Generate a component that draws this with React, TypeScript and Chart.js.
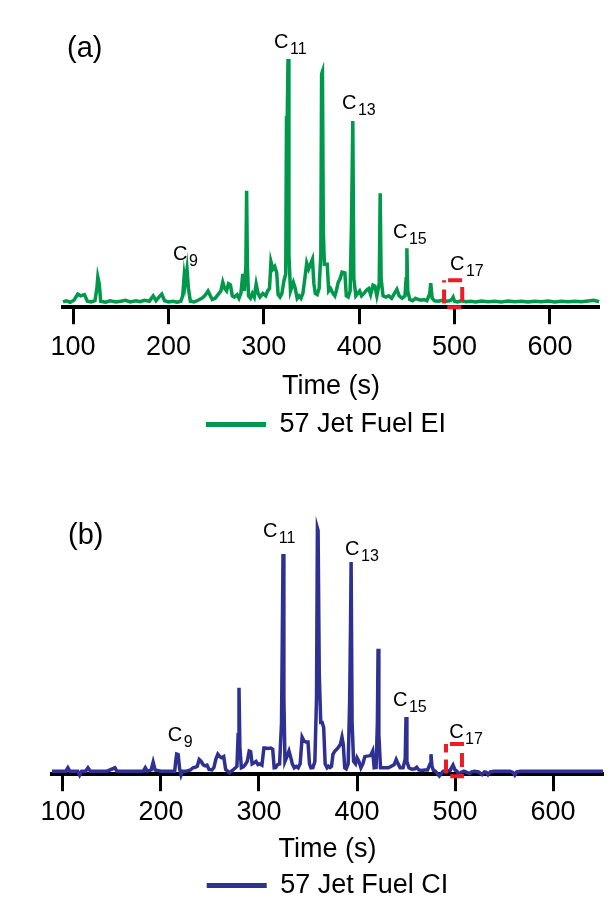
import React, { useEffect, useRef } from 'react';
import { Chart, registerables } from 'chart.js';
Chart.register(...registerables);

const FONT = "'Liberation Sans', Arial, Helvetica, sans-serif";
const GREEN = '#00984a';
const BLUE = '#2e3192';
const RED = '#ed1c24';

const xTicks = [100, 200, 300, 400, 500, 600];

// [time (s), intensity] — 57 Jet Fuel EI
const eiPoints: [number, number][] = [
  [89.5, 0.5], [93, 1.0], [97, 0.4], [101, 1.2], [105, 3.7], [108, 3.0], [112, 3.5], [115, 0.8], [119, 0.5], [123, 1.0],
  [125, 6], [126, 10.7], [127.5, 8], [129, 0.8], [134, 0.4], [139, 1.0], [145, 0.5], [150, 0.8], [155, 1.2], [160, 0.5],
  [166, 1.0], [170, 0.6], [175, 1.2], [180, 0.8], [184, 3.0], [187, 1.0], [190, 2.5], [193, 3.7], [196, 1.0], [200, 0.5],
  [205, 0.8], [209, 0.4], [213, 0.8], [215, 3], [216.5, 11], [217.5, 8], [219.5, 14], [221, 6], [223, 0.8], [227, 0.5],
  [231, 1.2], [235, 2.0], [238, 3.0], [241.5, 5.0], [244, 3.0], [246, 1.5], [249, 2.0], [252, 3.5], [255, 5], [257, 8.6],
  [259, 6], [261, 5], [263, 8], [265, 7.5], [267, 3], [269, 2.5], [272, 3.5], [274, 2], [276, 4], [278, 12],
  [279.5, 5], [281.2, 15], [282, 46], [282.8, 15], [284, 3], [286, 2], [288, 4], [290, 2.5], [292, 7.8], [294, 4],
  [296, 2.5], [299, 4], [302, 3], [304, 5], [306, 6], [307.5, 17], [309.5, 14], [311.5, 15], [313.5, 12.5], [315, 3.5],
  [317, 2.5], [319, 4], [321, 9], [323, 12], [323.8, 76], [324.6, 76], [325.4, 100], [326.3, 20], [328, 5], [331, 8.5],
  [333, 6], [335, 2], [337, 3], [339, 2], [341, 4], [343, 10], [345, 16.4], [347, 14], [349, 16], [351, 18],
  [352.5, 8], [354, 4], [356, 3.5], [358, 6], [359.8, 20], [360.6, 94], [361.5, 95], [362.4, 30], [363.5, 16], [365, 16],
  [366.5, 16], [368, 5], [370, 6], [372.5, 4], [374.5, 3], [376, 5], [378, 8.5], [380, 10], [382, 12.7], [385, 12.4],
  [386.5, 3], [388.5, 2.5], [390.5, 5], [392, 34], [393.3, 74.6], [394.4, 10], [396.5, 3], [398.5, 4], [400.5, 5], [402.5, 3],
  [405, 4], [408, 5.5], [410, 6], [412, 3.5], [414.5, 7.4], [416.5, 7], [418.5, 3], [421, 8], [422, 45], [423, 10],
  [425, 3], [428, 2.5], [431, 3], [434, 2], [437, 4], [439.5, 5.7], [442, 3], [445, 2], [448, 3], [449.2, 10],
  [450, 22.5], [450.9, 5], [453, 1.5], [456, 1.0], [459, 2.0], [462, 1.5], [465, 1.2], [468, 1.5], [471, 1.0], [474, 4],
  [475, 8.2], [476.5, 2], [479, 1.0], [483, 0.8], [487, 1.2], [491, 0.8], [495, 1.0], [497, 1.5], [498.5, 2.5], [500, 0.8],
  [503, 0.5], [507, 1.0], [512, 0.6], [517, 0.8], [522, 0.5], [528, 0.9], [535, 0.6], [542, 0.8], [549, 0.5], [556, 0.9],
  [563, 0.6], [570, 0.8], [577, 0.5], [584, 0.8], [591, 0.6], [598, 0.9], [605, 0.5], [612, 0.8], [619, 0.6], [626, 0.8],
  [633, 0.6], [640, 0.9], [646, 1.2], [651.4, 0.6],
];

// [time (s), intensity] — 57 Jet Fuel CI
const ciPoints: [number, number][] = [
  [88.8, 0], [95, 0], [100, 0], [103, 0], [105, 1.4], [107, 0], [112, 0], [115, 0], [117, -1.6], [119, 0],
  [123, 0], [125.5, 1.4], [128, 0], [135, 0], [145, 0], [153, 1.4], [155, 0], [165, 0], [175, 0], [182, 0],
  [184, 1.4], [186, 0], [190, 0.5], [192, 3.7], [194, 0.5], [200, 0], [205, 0], [210, 0], [214, 0], [215, 4],
  [216, 7], [217.5, 6.8], [219, 1], [220.5, -1.6], [222, 0], [226, 0], [230, 0.5], [232.6, 1.4], [235, 1.6], [237, 2],
  [239, 4.8], [241, 4], [243, 2.7], [245, 2.2], [247, 2.5], [249, 0.7], [252, 0.5], [254, 1.5], [256, 5], [258, 7],
  [260, 6], [262, 5.5], [264, 6], [266, 0.7], [268, 0], [270, -0.7], [272, 0], [274, 0.7], [276, 1.4], [277.5, 2],
  [278.7, 15], [279.6, 34.3], [280.5, 10], [282, 1.4], [284, 1.8], [286, 2.7], [288, 4], [290, 8.3], [291.5, 8], [293, 3],
  [295, 3.5], [297, 4], [299, 2.7], [301, 3], [303, 2.5], [305, 9.5], [307, 9.5], [309, 9.3], [312, 9.5], [314, 9],
  [315.5, 1.4], [317, 1.5], [319, 2.7], [321, 3], [323, 20], [323.8, 56], [324.5, 89.3], [325.4, 30], [326.5, 4], [328.5, 6],
  [330.6, 8.3], [332.5, 5.5], [334, 3], [336, 1.4], [338, 2], [340, 1.4], [342, 3], [344, 14], [346, 12.4], [348, 12],
  [350, 12], [351.5, 3], [353, 1.4], [355, 1.5], [357, 4], [358.7, 30], [359.6, 100], [360.3, 99], [361.5, 40], [363, 20],
  [364.5, 20], [366, 18], [367.5, 3], [369.5, 1.4], [371, 2], [372.5, 1.5], [374, 2], [375.5, 7], [377.5, 8.3], [380.6, 9.6],
  [383, 11], [384.7, 14], [386, 11], [387.5, 1.4], [389, 1], [391, 3], [392.5, 29], [393.4, 60], [394, 86], [395, 20],
  [396.5, 4], [398.5, 3], [400, 5.5], [402, 4], [404, 1.4], [406, 3], [408, 6], [410, 6.2], [412, 6.3], [414, 6.5],
  [416, 8.3], [417.5, 1.4], [419.5, 1.5], [420.8, 20], [421.5, 50.4], [422.3, 15], [424, 1.4], [428, 1.4], [432, 1.4], [435, 2],
  [438, 2.7], [440, 4.8], [442, 3], [444, 1.4], [447, 1.4], [449.2, 5], [450, 22.3], [450.9, 4], [453, 1.4], [456, 0.8],
  [459, 1], [461, 1.6], [463, 0.5], [466, 0.3], [469, 0.5], [472, 0.5], [474.5, 3], [475.5, 7], [476.5, 2], [478, 0.3],
  [480, 0], [482, -1], [484, -2], [486, -1], [488, 0], [492, 0], [495, 0.3], [498, 2.5], [500, 0.5], [502, 0],
  [504, -1.6], [506, -0.5], [509, 0], [512, -0.5], [515, -1], [517, -0.3], [520, 0], [524, -0.3], [527.5, -1.4], [530, -0.3],
  [532, -0.5], [533.7, -1.4], [536, -0.3], [540, 0], [545, 0], [550, 0], [556, 0], [559, -0.5], [561, -1.6], [563, -0.3],
  [567, 0], [580, 0], [600, 0], [620, 0], [640, 0], [651, 0],
];

// peak labels: subscript, [time of left edge, value of baseline]
const peakSubs = ['9', '11', '13', '15', '17'];
const eiLabelPos: [number, number][] = [[204.8, 17.6], [310.7, 104.5], [382, 79.5], [435.4, 26.6], [495.2, 13.5]];
const ciLabelPos: [number, number][] = [[207, 12.4], [304, 96.3], [387.8, 88.8], [436.7, 26.9], [494, 13.6]];

// dashed highlight box: [time start, time end], [value bottom, value top]
const eiBoxTime = [489, 508];
const eiBoxValue = [-1.64, 9.4];
const ciBoxTime = [490.8, 507.1];
const ciBoxValue = [-2.07, 11.2];

const annotate = {
  id: 'annotate',
  afterDatasetsDraw(chart: any, _args: any, opts: any) {
    const { ctx } = chart;
    const xs = chart.scales.x;
    const ys = chart.scales.y;
    ctx.save();
    const bx1 = xs.getPixelForValue(opts.boxTime[0]);
    const bx2 = xs.getPixelForValue(opts.boxTime[1]);
    const by1 = ys.getPixelForValue(opts.boxValue[1]);
    const by2 = ys.getPixelForValue(opts.boxValue[0]);
    ctx.strokeStyle = RED;
    ctx.lineWidth = 4;
    ctx.setLineDash([14, 7]);
    ctx.lineDashOffset = -4;
    ctx.strokeRect(bx1, by1, bx2 - bx1, by2 - by1);
    ctx.setLineDash([]);
    ctx.fillStyle = '#000';
    ctx.textAlign = 'left';
    ctx.textBaseline = 'alphabetic';
    opts.labelPos.forEach((p: [number, number], i: number) => {
      const px = xs.getPixelForValue(p[0]);
      const py = ys.getPixelForValue(p[1]);
      ctx.font = `20px ${FONT}`;
      ctx.fillText('C', px, py);
      const w = ctx.measureText('C').width;
      ctx.font = `16px ${FONT}`;
      ctx.fillText(peakSubs[i], px + w + 1.5, py + 6);
    });
    ctx.font = `29px ${FONT}`;
    ctx.fillText(opts.panel, opts.panelX, opts.panelY);
    ctx.restore();
  },
};

type PanelProps = {
  top: number;
  height: number;
  points: [number, number][];
  color: string;
  label: string;
  xMin: number;
  xMax: number;
  yMin: number;
  yMax: number;
  yWidth: number;
  pad: { top: number; left: number; right: number; bottom: number };
  tickPad: number;
  titlePad: { top: number; bottom: number };
  legendPad: number;
  labelPos: [number, number][];
  boxTime: number[];
  boxValue: number[];
  panel: string;
  panelX: number;
  panelY: number;
};

function Panel(props: PanelProps) {
  const ref = useRef<HTMLCanvasElement>(null);
  useEffect(() => {
    if (!ref.current) return;
    const chart = new Chart(ref.current, {
      type: 'line',
      data: {
        datasets: [
          {
            label: props.label,
            data: props.points.map(([x, y]) => ({ x, y })),
            borderColor: props.color,
            backgroundColor: props.color,
            borderWidth: 3.5,
            pointRadius: 0,
            tension: 0,
            fill: false,
            clip: false as any,
          },
        ],
      },
      options: {
        responsive: false,
        animation: false,
        devicePixelRatio: 1,
        layout: { padding: props.pad },
        scales: {
          x: {
            type: 'linear',
            min: props.xMin,
            max: props.xMax,
            afterBuildTicks: (scale: any) => {
              scale.ticks = xTicks.map((v) => ({ value: v }));
            },
            grid: {
              display: true,
              drawOnChartArea: false,
              drawTicks: true,
              tickLength: 17,
              tickWidth: 3,
              tickColor: '#000',
            },
            border: { display: true, color: '#000', width: 4 },
            ticks: {
              color: '#000',
              font: { size: 27, family: FONT },
              padding: props.tickPad,
              maxRotation: 0,
              autoSkip: false,
            },
            title: {
              display: true,
              text: 'Time (s)',
              color: '#000',
              font: { size: 27, family: FONT },
              padding: props.titlePad,
            },
          },
          y: {
            display: props.yWidth > 0,
            min: props.yMin,
            max: props.yMax,
            grid: { display: false },
            border: { display: false },
            ticks: { display: false },
            afterFit: (scale: any) => {
              scale.width = props.yWidth;
            },
          },
        },
        plugins: {
          legend: {
            display: true,
            position: 'bottom',
            labels: {
              color: '#000',
              font: { size: 27, family: FONT },
              boxWidth: 60,
              boxHeight: 5,
              padding: props.legendPad,
              generateLabels: (c: any) =>
                c.data.datasets.map((ds: any, i: number) => ({
                  text: ds.label,
                  fillStyle: ds.borderColor,
                  strokeStyle: ds.borderColor,
                  lineWidth: 0,
                  hidden: false,
                  datasetIndex: i,
                })),
            },
          },
          tooltip: { enabled: false },
          annotate: {
            labelPos: props.labelPos,
            boxTime: props.boxTime,
            boxValue: props.boxValue,
            panel: props.panel,
            panelX: props.panelX,
            panelY: props.panelY,
          },
        } as any,
      },
      plugins: [annotate],
    });
    return () => chart.destroy();
  }, []);
  return (
    <canvas
      ref={ref}
      width={615}
      height={props.height}
      style={{ position: 'absolute', left: 0, top: props.top, width: 615, height: props.height, display: 'block' }}
    />
  );
}

export default function App() {
  return (
    <div style={{ position: 'fixed', left: 0, top: 0, width: 615, height: 903, background: '#fff', overflow: 'hidden' }}>
      <Panel
        top={0}
        height={452}
        points={eiPoints}
        color={GREEN}
        label="57 Jet Fuel EI"
        xMin={89.5}
        xMax={651.4}
        yMin={-1.64}
        yMax={107.8}
        yWidth={10}
        pad={{ top: 40, left: 53, right: 16, bottom: 4 }}
        tickPad={7}
        titlePad={{ top: 0, bottom: 3 }}
        legendPad={5}
        labelPos={eiLabelPos}
        boxTime={eiBoxTime}
        boxValue={eiBoxValue}
        panel="(a)"
        panelX={67}
        panelY={57}
      />
      <Panel
        top={452}
        height={457}
        points={ciPoints}
        color={BLUE}
        label="57 Jet Fuel CI"
        xMin={88.8}
        xMax={651}
        yMin={-1.24}
        yMax={106.2}
        yWidth={0}
        pad={{ top: 61, left: 52, right: 12, bottom: 0 }}
        tickPad={5}
        titlePad={{ top: 0, bottom: 4 }}
        legendPad={2}
        labelPos={ciLabelPos}
        boxTime={ciBoxTime}
        boxValue={ciBoxValue}
        panel="(b)"
        panelX={68}
        panelY={92}
      />
    </div>
  );
}
